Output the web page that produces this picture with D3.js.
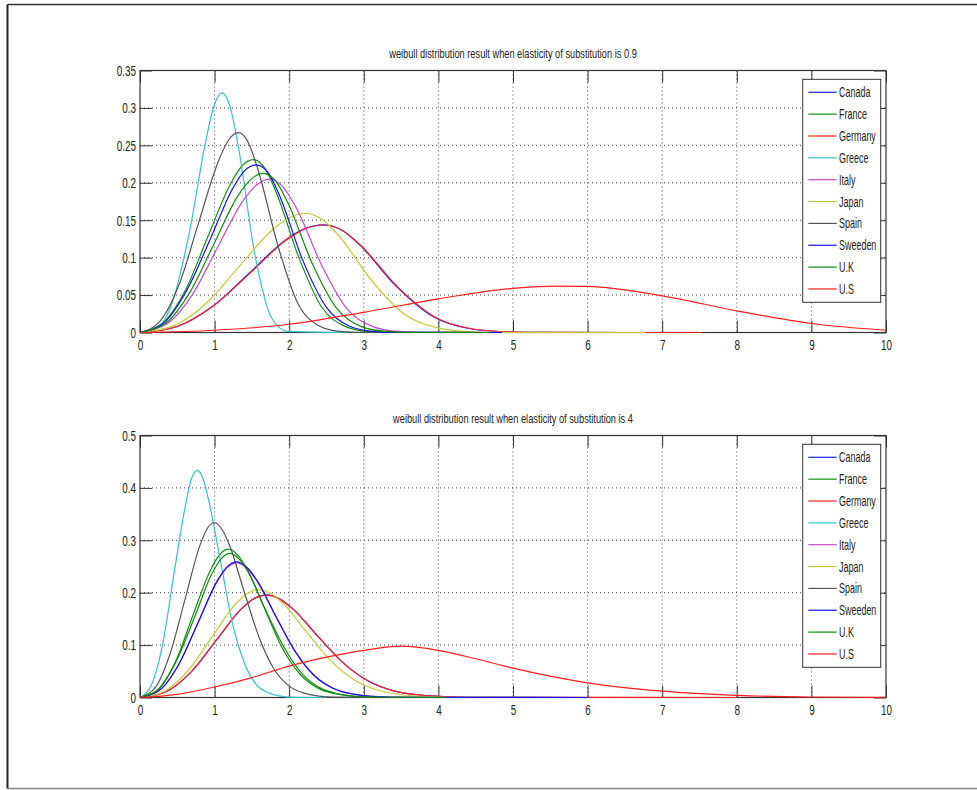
<!DOCTYPE html>
<html>
<head>
<meta charset="utf-8">
<script src="https://cdn.jsdelivr.net/npm/d3@7"></script>
<style>
  body { margin: 0; background: #fff; }
  text { font-family: 'Liberation Sans', Arial, sans-serif; fill: #222; }
</style>
</head>
<body>
<script>
// ---- data ----
const countries = ['Canada', 'France', 'Germany', 'Greece', 'Italy', 'Japan', 'Spain', 'Sweeden', 'U.K', 'U.S'];

const xTicks = [0, 1, 2, 3, 4, 5, 6, 7, 8, 9, 10];
const yTicksTop = [0, 0.05, 0.1, 0.15, 0.2, 0.25, 0.3, 0.35];
const yLabelsTop = ['0', '0.05', '0.1', '0.15', '0.2', '0.25', '0.3', '0.35'];
const yTicksBottom = [0, 0.1, 0.2, 0.3, 0.4, 0.5];
const yLabelsBottom = ['0', '0.1', '0.2', '0.3', '0.4', '0.5'];

const titleTop = 'weibull distribution result when elasticity of substitution is 0.9';
const titleBottom = 'weibull distribution result when elasticity of substitution is 4';

// elasticity 0.9, one list of [x, y] per country (legend order)
const top09 = [
  [[0,0],[0.49,0.0077],[0.98,0.0353],[1.47,0.0798],[1.96,0.1244],[2.21,0.1387],[2.45,0.1438],[2.70,0.1369],[2.94,0.1175],[3.43,0.0623],[3.92,0.0216],[4.41,0.0053],[4.90,0.0009],[5.39,0.0001],[7.5,0]],
  [[0,0],[0.30,0.0123],[0.61,0.0567],[0.91,0.1282],[1.22,0.1998],[1.37,0.2228],[1.52,0.231],[1.67,0.2199],[1.82,0.1887],[2.13,0.1000],[2.43,0.0347],[2.74,0.0085],[3.04,0.0015],[3.34,0.0002],[4.3,0]],
  [[0,0],[0.49,0.0077],[0.98,0.0353],[1.48,0.0797],[1.97,0.1242],[2.21,0.1385],[2.46,0.1436],[2.71,0.1367],[2.95,0.1173],[3.44,0.0622],[3.94,0.0215],[4.43,0.0053],[4.92,0.0009],[5.41,0.0001],[7.53,0]],
  [[0,0],[0.22,0.0054],[0.44,0.0425],[0.66,0.1328],[0.88,0.2551],[0.99,0.3019],[1.10,0.32],[1.21,0.3007],[1.32,0.2472],[1.54,0.1042],[1.76,0.0204],[1.98,0.0015],[2.8,0]],
  [[0,0],[0.35,0.0109],[0.70,0.0503],[1.04,0.1138],[1.39,0.1773],[1.57,0.1977],[1.74,0.205],[1.91,0.1952],[2.09,0.1675],[2.44,0.0888],[2.78,0.0308],[3.13,0.0076],[3.48,0.0014],[3.83,0.0002],[4.6,0]],
  [[0,0],[0.44,0.0085],[0.89,0.0390],[1.33,0.0883],[1.78,0.1375],[2.00,0.1533],[2.22,0.159],[2.44,0.1514],[2.66,0.1299],[3.11,0.0688],[3.55,0.0239],[4.00,0.0059],[4.44,0.0010],[4.88,0.0001],[6.77,0]],
  [[0,0],[0.26,0.0142],[0.53,0.0655],[0.79,0.1482],[1.06,0.2310],[1.19,0.2575],[1.32,0.267],[1.45,0.2542],[1.58,0.2181],[1.85,0.1156],[2.11,0.0401],[2.38,0.0099],[2.64,0.0018],[2.90,0.0002],[3.8,0]],
  [[0,0],[0.31,0.0119],[0.62,0.0550],[0.94,0.1243],[1.25,0.1938],[1.40,0.2160],[1.56,0.224],[1.72,0.2132],[1.87,0.1830],[2.18,0.0970],[2.50,0.0336],[2.81,0.0083],[3.12,0.0015],[3.43,0.0002],[4.85,0]],
  [[0,0],[0.33,0.0113],[0.66,0.0522],[0.99,0.1180],[1.32,0.1838],[1.49,0.2049],[1.65,0.2125],[1.82,0.2023],[1.98,0.1736],[2.31,0.0920],[2.64,0.0319],[2.97,0.0079],[3.30,0.0014],[3.63,0.0002],[4.69,0]],
  [[0,0],[1,0.003],[2,0.011],[3,0.027],[4,0.045],[5,0.059],[5.6,0.062],[6,0.0615],[7,0.049],[8,0.029],[9,0.012],[10,0.003]]
];

// elasticity 4
const bottom4 = [
  [[0,0],[0.34,0.0104],[0.68,0.0481],[1.02,0.1088],[1.36,0.1695],[1.53,0.1890],[1.70,0.196],[1.87,0.1882],[2.04,0.1705],[2.38,0.1176],[2.72,0.0666],[3.06,0.0314],[3.40,0.0127],[3.74,0.0049],[4.08,0.0016],[4.42,0.0004],[6.0,0]],
  [[0,0],[0.24,0.0151],[0.48,0.0695],[0.71,0.1571],[0.95,0.2448],[1.07,0.2729],[1.19,0.283],[1.31,0.2717],[1.43,0.2462],[1.67,0.1698],[1.90,0.0962],[2.14,0.0453],[2.38,0.0184],[2.62,0.0071],[2.86,0.0023],[3.09,0.0006],[4.0,0]],
  [[0,0],[0.34,0.0104],[0.68,0.0480],[1.02,0.1085],[1.36,0.1691],[1.53,0.1885],[1.70,0.1955],[1.87,0.1877],[2.04,0.1701],[2.38,0.1173],[2.72,0.0665],[3.06,0.0313],[3.40,0.0127],[3.74,0.0049],[4.08,0.0016],[4.42,0.0004],[8.0,0]],
  [[0,0],[0.15,0.0231],[0.31,0.1063],[0.46,0.2404],[0.62,0.3745],[0.69,0.4175],[0.77,0.433],[0.85,0.4157],[0.92,0.3767],[1.08,0.2598],[1.23,0.1472],[1.39,0.0693],[1.54,0.0281],[1.69,0.0108],[1.85,0.0035],[2.00,0.0009],[2.5,0]],
  [[0,0],[0.26,0.0137],[0.52,0.0631],[0.78,0.1427],[1.04,0.2223],[1.17,0.2478],[1.30,0.257],[1.43,0.2467],[1.56,0.2236],[1.82,0.1542],[2.08,0.0874],[2.34,0.0411],[2.60,0.0167],[2.86,0.0064],[3.12,0.0021],[3.38,0.0005],[4.4,0]],
  [[0,0],[0.32,0.0110],[0.64,0.0506],[0.96,0.1144],[1.28,0.1782],[1.44,0.1986],[1.60,0.206],[1.76,0.1978],[1.92,0.1792],[2.24,0.1236],[2.56,0.0700],[2.88,0.0330],[3.20,0.0134],[3.52,0.0052],[3.84,0.0016],[4.16,0.0004],[5.8,0]],
  [[0,0],[0.2,0.0178],[0.4,0.0820],[0.6,0.1854],[0.8,0.2889],[0.9,0.3221],[1.0,0.334],[1.1,0.3206],[1.2,0.2906],[1.4,0.2004],[1.6,0.1136],[1.8,0.0534],[2.0,0.0217],[2.2,0.0084],[2.4,0.0027],[2.6,0.0007],[3.3,0]],
  [[0,0],[0.26,0.0138],[0.52,0.0636],[0.78,0.1438],[1.04,0.2240],[1.17,0.2498],[1.30,0.259],[1.43,0.2486],[1.56,0.2253],[1.82,0.1554],[2.08,0.0881],[2.34,0.0414],[2.60,0.0168],[2.86,0.0065],[3.12,0.0021],[3.38,0.0005],[6.0,0]],
  [[0,0],[0.24,0.0147],[0.48,0.0675],[0.73,0.1527],[0.97,0.2379],[1.09,0.2652],[1.21,0.275],[1.33,0.2640],[1.45,0.2393],[1.69,0.1650],[1.94,0.0935],[2.18,0.0440],[2.42,0.0179],[2.66,0.0069],[2.90,0.0022],[3.15,0.0006],[4.1,0]],
  [[0,0],[0.5,0.006],[1,0.02],[1.5,0.038],[2,0.06],[2.5,0.077],[3,0.09],[3.5,0.098],[4,0.09],[4.5,0.074],[5,0.056],[6,0.028],[7,0.012],[8,0.004],[9,0.001],[10,0.0003]]
];

// ---- styles ----
const colors = ['#1f1fff', '#129012', '#ff2020', '#30c4c4', '#c84ac8', '#c8c834', '#555555', '#1010f0', '#108a10', '#ff1c1c'];
const sx = 0.66; // horizontal squeeze of the narrow MATLAB font

const w = 977;
const h = 790;

const svg = d3.select('body')
  .append('svg')
  .attr('width', w)
  .attr('height', h);

// outer frame of the figure
svg.append('line').attr('x1', 7.5).attr('x2', w).attr('y1', 4.5).attr('y2', 4.5)
  .attr('stroke', '#333').attr('stroke-width', 1.6);
svg.append('line').attr('x1', 7.5).attr('x2', 7.5).attr('y1', 4.5).attr('y2', 788.5)
  .attr('stroke', '#222').attr('stroke-width', 2);
svg.append('line').attr('x1', 7.5).attr('x2', w).attr('y1', 788.5).attr('y2', 788.5)
  .attr('stroke', '#888').attr('stroke-width', 1.6);

const panels = [
  { id: 'p1', title: titleTop, data: top09, ticks: yTicksTop, labels: yLabelsTop, ymax: 0.35, top: 70.5, bottom: 332.5 },
  { id: 'p2', title: titleBottom, data: bottom4, ticks: yTicksBottom, labels: yLabelsBottom, ymax: 0.5, top: 435.5, bottom: 697.5 }
];

const left = 140;
const right = 886;

panels.forEach(p => {
  const x = d3.scaleLinear().domain([0, 10]).range([left, right]);
  const y = d3.scaleLinear().domain([0, p.ymax]).range([p.bottom, p.top]);
  const g = svg.append('g');

  // title
  g.append('text')
    .attr('transform', `translate(${(left + right) / 2},${p.top - 12.5}) scale(0.74,1)`)
    .attr('text-anchor', 'middle')
    .style('font-size', '12.5px')
    .text(p.title);

  // dotted grid
  g.selectAll('.gx')
    .data(xTicks.slice(1, -1))
    .enter()
    .append('line')
    .attr('x1', d => x(d)).attr('x2', d => x(d))
    .attr('y1', p.top).attr('y2', p.bottom)
    .attr('stroke', '#444').attr('stroke-width', 1)
    .attr('stroke-dasharray', '1,3');
  g.selectAll('.gy')
    .data(p.ticks.slice(1, -1))
    .enter()
    .append('line')
    .attr('x1', left).attr('x2', right)
    .attr('y1', d => y(d)).attr('y2', d => y(d))
    .attr('stroke', '#444').attr('stroke-width', 1)
    .attr('stroke-dasharray', '1,3');

  // axes with inward ticks on all four sides
  const ax = g.append('g').attr('transform', `translate(0,${p.bottom})`)
    .call(d3.axisBottom(x).tickValues(xTicks).tickSize(-12).tickPadding(7).tickFormat(d => String(d)));
  g.append('g').attr('transform', `translate(0,${p.top})`)
    .call(d3.axisTop(x).tickValues(xTicks).tickSize(-12).tickFormat(''));
  const ay = g.append('g').attr('transform', `translate(${left},0)`)
    .call(d3.axisLeft(y).tickValues(p.ticks).tickSize(-12).tickPadding(4).tickFormat((d, i) => p.labels[i]));
  g.append('g').attr('transform', `translate(${right},0)`)
    .call(d3.axisRight(y).tickValues(p.ticks).tickSize(-12).tickFormat(''));

  g.selectAll('.domain').remove();
  g.selectAll('.tick line').attr('stroke', '#333');
  g.selectAll('.tick text').style('font-size', '15px').attr('fill', '#222');
  ax.selectAll('.tick text').attr('transform', `scale(${sx},1)`);
  ay.selectAll('.tick text').attr('x', -4 / sx).attr('transform', `scale(${sx},1)`);

  // box
  g.append('rect')
    .attr('x', left).attr('y', p.top)
    .attr('width', right - left).attr('height', p.bottom - p.top)
    .attr('fill', 'none').attr('stroke', '#333').attr('stroke-width', 1.2);

  // curves
  svg.append('clipPath').attr('id', 'clip-' + p.id)
    .append('rect')
    .attr('x', left).attr('y', p.top)
    .attr('width', right - left + 1).attr('height', p.bottom - p.top + 1);

  const line = d3.line()
    .x(d => x(d[0]))
    .y(d => y(d[1]))
    .curve(d3.curveMonotoneX);

  g.append('g')
    .attr('clip-path', `url(#clip-${p.id})`)
    .selectAll('path')
    .data(p.data)
    .enter()
    .append('path')
    .attr('d', line)
    .attr('fill', 'none')
    .attr('stroke', (d, i) => colors[i])
    .attr('stroke-width', 1.2);

  // legend
  const lg = g.append('g').attr('transform', `translate(802.7,${p.top + 8.8})`);
  lg.append('rect')
    .attr('width', 78).attr('height', 223)
    .attr('fill', '#fff').attr('stroke', '#333').attr('stroke-width', 1);
  const rows = lg.selectAll('.row')
    .data(countries)
    .enter()
    .append('g')
    .attr('transform', (d, i) => `translate(0,${13 + i * 21.85})`);
  rows.append('line')
    .attr('x1', 5.6).attr('x2', 34)
    .attr('stroke', (d, i) => colors[i])
    .attr('stroke-width', 1.2);
  rows.append('text')
    .attr('transform', `translate(36.3,0) scale(0.64,1)`)
    .attr('dy', '0.36em')
    .style('font-size', '14px')
    .text(d => d);
});
</script>
</body>
</html>
